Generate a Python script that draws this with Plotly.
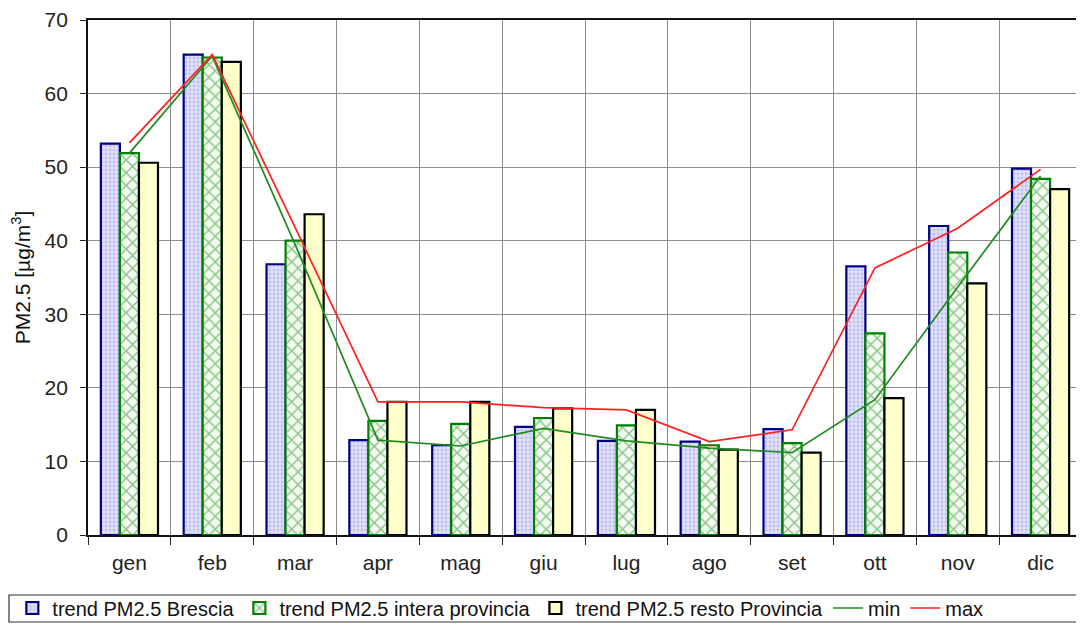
import plotly.graph_objects as go

months = ["gen", "feb", "mar", "apr", "mag", "giu", "lug", "ago", "set", "ott", "nov", "dic"]
brescia = [53.2, 65.3, 36.8, 12.9, 12.2, 14.7, 12.8, 12.7, 14.4, 36.5, 42.0, 49.8]
intera = [51.9, 64.9, 40.0, 15.5, 15.1, 15.9, 14.9, 12.2, 12.5, 27.4, 38.4, 48.4]
resto = [50.6, 64.3, 43.6, 18.1, 18.1, 17.2, 17.0, 11.6, 11.2, 18.6, 34.2, 47.0]
min_line = [51.9, 65.1, 39.5, 12.9, 12.1, 14.5, 12.8, 11.8, 11.2, 18.4, 33.7, 48.8]
max_line = [53.3, 65.3, 41.8, 18.1, 18.1, 17.3, 17.0, 12.7, 14.3, 36.3, 41.7, 49.7]

font = "Liberation Sans, Arial, sans-serif"

# page body adds an 8px offset; margins compensate so the plot area lands at 88..1082 x 20..535
fig = go.Figure()
fig.add_trace(go.Bar(
    x=months, y=brescia, name="trend PM2.5 Brescia",
    marker=dict(color="#d4d4f6", line=dict(color="#000080", width=2.2),
                pattern=dict(shape=".", fgcolor="#9a9ae6", bgcolor="#e2e2fa", size=4, solidity=0.4)),
))
fig.add_trace(go.Bar(
    x=months, y=intera, name="trend PM2.5 intera provincia",
    marker=dict(color="#ffffff", line=dict(color="#008000", width=2.2),
                pattern=dict(shape="x", fgcolor="#1f8a1f", bgcolor="#f4fbf0", size=9, solidity=0.3)),
))
fig.add_trace(go.Bar(
    x=months, y=resto, name="trend PM2.5 resto Provincia",
    marker=dict(color="#ffffcc", line=dict(color="#000000", width=2.2)),
))
fig.add_trace(go.Scatter(
    x=months, y=min_line, name="min", mode="lines",
    line=dict(color="#1f8a1f", width=1.7),
))
fig.add_trace(go.Scatter(
    x=months, y=max_line, name="max", mode="lines",
    line=dict(color="#ff2020", width=1.7),
))

# Legend frame (paper coordinates relative to plot area, 994 x 515 px)
fig.add_shape(type="rect", xref="paper", yref="paper",
              x0=(9 - 88) / 994, x1=1.0, y0=(535 - 622) / 515, y1=(535 - 595) / 515,
              line=dict(color="#333333", width=1.2), fillcolor="rgba(0,0,0,0)", layer="above")

fig.update_layout(
    width=1084, height=627,
    margin=dict(l=80, r=10, t=12, b=100, autoexpand=False),
    paper_bgcolor="white", plot_bgcolor="white",
    barmode="group", bargap=0.31, bargroupgap=0,
    font=dict(family=font, size=18, color="#222222"),
    showlegend=True,
    legend=dict(
        orientation="h", xref="container", yref="container",
        x=0.004, y=(627 - 600) / 627, xanchor="left", yanchor="middle",
        borderwidth=0, bgcolor="rgba(0,0,0,0)",
        font=dict(family=font, size=20, color="#111111"),
        itemwidth=30, tracegroupgap=0, traceorder="normal",
    ),
    xaxis=dict(
        type="category", tickson="boundaries", ticks="outside", ticklen=8,
        tickcolor="#222222", showgrid=True, gridcolor="#8c8c8c", gridwidth=1,
        showline=True, linecolor="#111111", linewidth=1.8, mirror=True,
        tickfont=dict(family=font, size=21, color="#222222"),
        automargin=False, ticklabelstandoff=8,
    ),
    yaxis=dict(
        range=[0, 70], dtick=10, ticks="outside", ticklen=6, tickcolor="#222222",
        showgrid=True, gridcolor="#8c8c8c", gridwidth=1,
        showline=True, linecolor="#111111", linewidth=1.8, mirror=True,
        tickfont=dict(family=font, size=21, color="#222222"),
        title=dict(text="PM2.5 [µg/m<sup>3</sup>]", font=dict(family=font, size=21, color="#111111"), standoff=8),
        zeroline=False, automargin=False, ticklabelstandoff=8,
    ),
)

fig.write_html("out.html")
